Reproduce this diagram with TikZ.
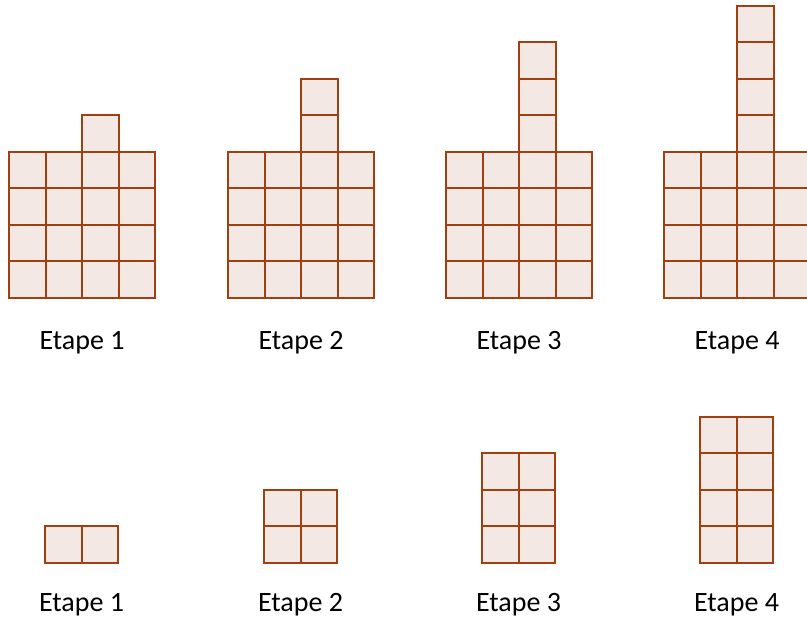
\documentclass[tikz,border=0pt]{standalone}
\usepackage{fontspec}
\setmainfont{Carlito}
\definecolor{cellline}{RGB}{160,64,16}
\definecolor{cellfill}{RGB}{243,232,228}
\tikzset{
  cell/.style={draw=cellline, fill=cellfill, line width=2pt},
  lbl/.style={font=\fontsize{28}{30}\selectfont, text=black, inner sep=0pt, anchor=center}
}
\begin{document}
\begin{tikzpicture}[x=1pt,y=-1pt]
\useasboundingbox (0,0) rectangle (807,620);
\clip (0,0) rectangle (807,620);
\def\s{36.5}
% top row
\foreach \n/\x in {1/9,2/228,3/446,4/664}{
  \foreach \i in {0,...,3}{
    \foreach \j in {1,...,4}{
      \draw[cell] (\x+\i*\s,298-\j*\s) rectangle ++(\s,\s);
    }
  }
  \foreach \k in {1,...,\n}{
    \draw[cell] (\x+2*\s,152-\k*\s) rectangle ++(\s,\s);
  }
  \node[lbl] (top\n) at (\x+2*\s,342.5) {Etape \n};
}
% bottom row
\foreach \n/\x in {1/45,2/264,3/482,4/700}{
  \foreach \i in {0,1}{
    \foreach \j in {1,...,\n}{
      \draw[cell] (\x+\i*\s,563-\j*\s) rectangle ++(\s,\s);
    }
  }
  \node[lbl] (bot\n) at (\x+\s,604.5) {Etape \n};
}
\end{tikzpicture}
\end{document}
